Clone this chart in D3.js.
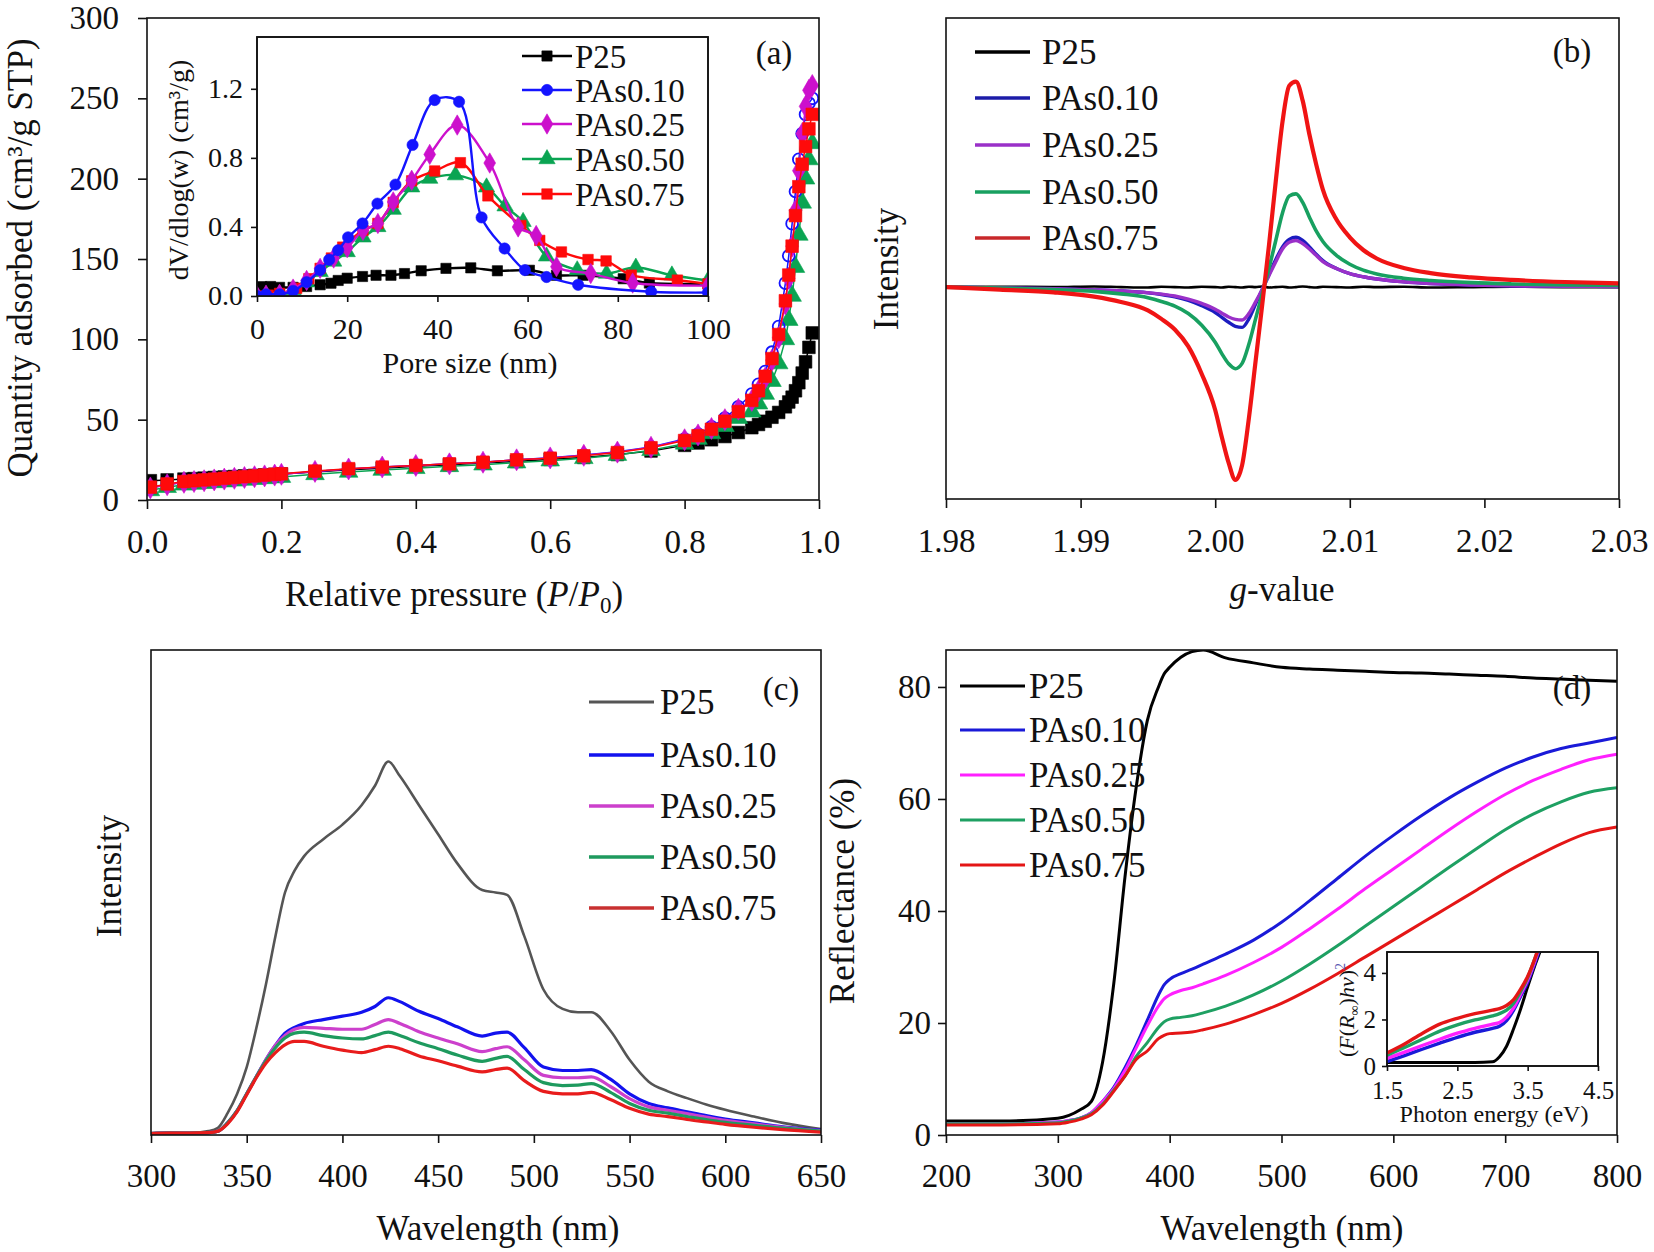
<!DOCTYPE html>
<html>
<head>
<meta charset="utf-8">
<script src="https://cdn.jsdelivr.net/npm/d3@7"></script>
<style>
  body { margin: 0; background: #fff; }
  text { font-family: "Liberation Serif", "Times New Roman", serif; fill: #111; }
</style>
</head>
<body>
<svg id="fig" width="1654" height="1252"></svg>
<script>
// ---------- shared ----------
var sampleNames = ["P25", "PAs0.10", "PAs0.25", "PAs0.50", "PAs0.75"];

// ---------- (a) N2 isotherm ----------
var isoP = [0.005,0.03,0.055,0.07,0.085,0.1,0.115,0.13,0.145,0.16,0.175,0.19,0.2,0.25,0.3,0.35,0.4,0.45,0.5,0.55,0.6,0.65,0.7,0.75,0.8,0.82,0.84,0.86,0.88,0.9,0.91,0.92,0.93,0.94,0.95,0.955,0.96,0.965,0.97,0.975,0.98,0.985,0.99];
var isoP25    = [12,12.5,13,13.3,13.6,14,14.3,14.6,15,15.3,15.6,16,16.2,17.5,18.8,19.8,21,22,23,24,25.3,26.5,28.3,30.5,34,35.5,37.5,39.5,42,45,47,49,51.5,54.5,58,61,64,68,73,79,86,95,104];
var isoPAs010 = [7.5,9.5,11,11.5,12,12.5,13,13.5,14,14.5,15,15.5,16,17.8,19.3,20.5,21.5,22.5,23.5,25,26.3,28,30,33,38,41,45.5,51,58,66,72,80,92,108,135,152,172,192,212,228,240,247,250];
var isoPAs025 = [7.5,9.5,11,11.5,12,12.5,13,13.5,14,14.5,15,15.5,16,17.8,19.3,20.5,21.5,22.5,23.5,25,26.2,27.8,29.8,32.8,37.5,40.5,44.5,50,56.5,62,68,76,87,101,122,138,158,180,205,228,245,255,258];
var isoPAs050 = [6,8,9.5,10,10.5,11,11.5,12,12.5,13,13.5,14,14.3,16,17.5,18.7,19.8,21,22,23.3,24.5,26,28,31,35,38,41.5,46,51,55,60,66,74,85,100,112,127,145,165,185,200,212,222];
var isoPAs075 = [8,10,11.5,12,12.5,13,13.5,14,14.5,15,15.5,16,16.3,18,19.5,20.5,21.5,22.5,23.5,25,26,27.5,29.5,32.5,37,40,44,49,55,62,68,77,88,103,124,140,158,177,195,209,220,231,240];
var isoTicksX = [0, 0.2, 0.4, 0.6, 0.8, 1.0];
var isoTicksY = [0, 50, 100, 150, 200, 250, 300];

// (a) inset, pore size distribution
var poreP25Size    = [0,1,3,5,8,11,14,16.4,18,20,23.4,26.4,29.7,32.7,36.4,41.9,47.4,53.3,60.4,66.4,72.3,81.2,87,100];
var poreP25Vol     = [0.045,0.054,0.055,0.05,0.05,0.055,0.065,0.074,0.09,0.103,0.113,0.12,0.12,0.13,0.146,0.16,0.163,0.146,0.149,0.12,0.12,0.1,0.075,0.07];
var porePAs010Size = [0,2,5,8,11,14,16,18,20.2,23.4,26.7,30.7,34.5,39.4,44.8,49.8,54.9,59.4,64.2,71.2,87.4,100];
var porePAs010Vol  = [0,0.01,0.01,0.03,0.08,0.15,0.21,0.265,0.34,0.42,0.535,0.645,0.875,1.135,1.125,0.455,0.275,0.15,0.11,0.065,0.025,0.02];
var porePAs025Size = [0,2,5,8,11,14,17,20,23.5,26.8,30.2,34.3,38.3,44.4,51.6,57.9,61.9,66.4,74,83.3,100];
var porePAs025Vol  = [0,0.005,0.01,0.04,0.09,0.16,0.22,0.28,0.38,0.42,0.545,0.67,0.82,0.99,0.77,0.4,0.35,0.17,0.13,0.075,0.06];
var porePAs050Size = [0,2,5,8,11,14,17,20,23.5,26.8,30.2,34.3,38.3,44,50.9,55,59,64.2,71,77.5,84,92,100];
var porePAs050Vol  = [0,0.005,0.01,0.035,0.08,0.14,0.2,0.255,0.34,0.4,0.5,0.63,0.68,0.7,0.63,0.52,0.43,0.23,0.15,0.13,0.165,0.12,0.09];
var porePAs075Size = [0,2.5,5,8.8,11.5,14,16.5,19,23.5,26.8,30.2,34.3,39.4,45.1,51.2,58.5,62.7,67.5,73.4,77.4,83,93.2,100];
var porePAs075Vol  = [0,0.005,0.015,0.045,0.1,0.16,0.22,0.283,0.38,0.42,0.542,0.667,0.724,0.772,0.58,0.408,0.322,0.255,0.211,0.203,0.121,0.092,0.07];
var poreTicksX = [0, 20, 40, 60, 80, 100];
var poreTicksY = [0, 0.4, 0.8, 1.2];

// ---------- (b) EPR ----------
var gValues  = [1.980,1.984,1.988,1.991,1.993,1.995,1.996,1.997,1.998,1.999,2.000,2.0005,2.001,2.0015,2.002,2.0025,2.003,2.0035,2.004,2.0045,2.005,2.0055,2.006,2.0065,2.007,2.0075,2.008,2.009,2.010,2.011,2.012,2.014,2.016,2.019,2.022,2.026,2.030];
var eprP25    = [0,0.002,0,0.003,0,-0.002,0.002,0,-0.002,0.002,0,-0.002,0.002,0,-0.002,0.002,0,0.003,-0.002,0,0.002,-0.002,0,0.003,0,-0.002,0.002,0,-0.002,0.002,0,0.002,-0.002,0,0.002,0,0];
var eprPAs010 = [0,-0.004,-0.008,-0.013,-0.018,-0.027,-0.035,-0.046,-0.063,-0.088,-0.12,-0.143,-0.166,-0.185,-0.19,-0.15,-0.08,-0.01,0.06,0.13,0.19,0.225,0.235,0.22,0.19,0.155,0.125,0.088,0.064,0.049,0.038,0.025,0.017,0.01,0.006,0.004,0.003];
var eprPAs025 = [0,-0.004,-0.008,-0.013,-0.018,-0.026,-0.033,-0.042,-0.057,-0.077,-0.104,-0.123,-0.141,-0.152,-0.155,-0.125,-0.07,-0.01,0.055,0.12,0.18,0.212,0.22,0.205,0.18,0.15,0.12,0.088,0.064,0.049,0.038,0.025,0.017,0.01,0.006,0.004,0.003];
var eprPAs050 = [0,-0.005,-0.012,-0.02,-0.032,-0.05,-0.068,-0.09,-0.125,-0.18,-0.26,-0.315,-0.362,-0.385,-0.36,-0.27,-0.15,-0.03,0.09,0.22,0.35,0.43,0.44,0.4,0.33,0.265,0.215,0.15,0.108,0.08,0.062,0.042,0.031,0.021,0.015,0.01,0.008];
var eprPAs075 = [0,-0.012,-0.025,-0.045,-0.07,-0.11,-0.15,-0.2,-0.28,-0.41,-0.58,-0.71,-0.83,-0.91,-0.84,-0.62,-0.35,-0.08,0.2,0.5,0.78,0.95,0.97,0.88,0.72,0.58,0.46,0.32,0.235,0.175,0.135,0.09,0.066,0.046,0.034,0.024,0.018];
var gTicks = [1.98, 1.99, 2.00, 2.01, 2.02, 2.03];

// ---------- (c) PL ----------
var plWave    = [300,310,320,330,335,340,345,350,355,360,365,370,375,380,390,400,410,417,424,430,440,450,460,473,480,486,495,505,515,523,530,540,550,560,570,580,590,600,615,630,650];
var plP25     = [0.4,0.5,0.4,0.8,1.5,4.5,8.5,14,22,31,41,50,54.5,57.5,61,64,68,72,77,74,68,62,56,50.5,50,49.5,41,30,26,25.3,25.3,21.5,15.5,11,9,7.6,6.3,5.2,3.8,2.5,1.2];
var plPAs010  = [0.3,0.4,0.4,0.5,0.8,2.5,5,8.5,12,15.5,18.5,21,22.2,23,23.8,24.5,25.3,26.5,28.3,27.5,25.5,24,22.3,20.4,21,21.2,18,14,13.3,13.3,13.5,11.5,8.5,6.5,5.6,4.8,4,3.3,2.5,1.7,1];
var plPAs025  = [0.3,0.4,0.4,0.5,0.8,2.5,5,8.5,12,15.5,18.5,20.5,21.8,22.2,22,21.8,21.8,22.8,23.8,23,21.3,20,18.8,17.2,17.8,18.2,15.5,12.3,11.8,11.8,12,10,7.5,5.8,5.1,4.4,3.7,3,2.3,1.6,0.9];
var plPAs050  = [0.3,0.4,0.4,0.5,0.8,2.5,5,8.5,12,15.3,18,20,21,21.2,20.5,20,19.8,20.5,21.2,20.5,19,17.8,16.5,15.2,15.8,16.2,13.5,10.8,10.2,10.3,10.6,8.8,6.5,5.1,4.5,3.8,3.2,2.6,2,1.4,0.8];
var plPAs075  = [0.3,0.4,0.4,0.5,0.8,2.3,4.8,8.3,11.8,14.8,17,18.6,19.3,19.3,18.3,17.5,17,17.6,18.3,17.8,16.3,15.3,14.2,13,13.5,13.8,11.2,9,8.5,8.5,8.8,7.3,5.5,4.3,3.8,3.2,2.7,2.2,1.6,1.1,0.6];
var plTicks = [300, 350, 400, 450, 500, 550, 600, 650];

// ---------- (d) diffuse reflectance ----------
var drsWave   = [200,250,300,310,320,330,340,350,360,370,380,390,395,400,410,420,430,450,475,500,525,550,575,600,625,650,675,700,725,750,775,800];
var drsP25    = [2.5,2.5,3,3.5,4.5,6,13,27,46,62,74,80,82.3,83.5,85.3,86.3,86.6,85.2,84.3,83.5,83.2,83,82.8,82.6,82.5,82.3,82.1,81.9,81.6,81.4,81.2,81];
var drsPAs010 = [2,2,2.3,2.6,3,4,6,8.5,12,16,20.5,25,26.8,27.8,28.8,29.6,30.5,32.3,34.8,38,41.8,45.8,49.8,53.5,57,60.2,63,65.5,67.5,69,70,71];
var drsPAs025 = [2,2,2.3,2.6,3,4,6,8.3,11.5,15.5,19.5,23,24.3,25,25.8,26.3,27,28.5,30.8,33.5,36.8,40.3,44,47.5,51,54.5,57.8,60.8,63.3,65.3,67,68];
var drsPAs050 = [2,2,2.2,2.5,3,3.8,5.5,8,10.5,14,16.5,19.2,20.2,20.7,21,21.3,21.8,23,25,27.5,30.5,33.8,37.3,40.8,44.3,47.8,51.2,54.5,57.3,59.5,61.2,62];
var drsPAs075 = [1.8,1.8,2,2.3,2.8,3.6,5.3,7.8,10.5,13.5,15,17.2,17.8,18.1,18.2,18.4,18.8,19.8,21.5,23.5,26,28.8,31.8,34.8,37.8,40.8,43.8,46.8,49.5,52,54,55];
var drsTicksX = [200, 300, 400, 500, 600, 700, 800];
var drsTicksY = [0, 20, 40, 60, 80];

// (d) inset, Tauc plot
var taucEnergy = [1.5,1.75,2.0,2.25,2.5,2.75,3.0,3.1,3.2,3.3,3.4,3.5,3.6,3.7];
var taucP25    = [0.15,0.15,0.15,0.15,0.15,0.15,0.18,0.4,0.85,1.6,2.45,3.4,4.3,5.1];
var taucPAs010 = [0.19,0.45,0.72,0.98,1.23,1.45,1.62,1.71,1.95,2.4,3.0,3.6,4.4,5.3];
var taucPAs025 = [0.33,0.6,0.88,1.15,1.41,1.62,1.8,1.87,2.1,2.5,3.1,3.7,4.5,5.4];
var taucPAs050 = [0.47,0.8,1.15,1.5,1.77,1.98,2.15,2.25,2.4,2.7,3.2,3.8,4.6,5.4];
var taucPAs075 = [0.56,0.95,1.4,1.8,2.05,2.25,2.4,2.47,2.6,2.85,3.3,3.85,4.6,5.5];
var taucTicksX = [1.5, 2.5, 3.5, 4.5];
var taucTicksY = [0, 2, 4];

// ---------- drawing ----------
var svg = d3.select("#fig");
svg.append("rect").attr("width", 1654).attr("height", 1252).attr("fill", "#fff");
var defs = svg.append("defs");
var INK = "#111";

function addClip(id, x0, y0, x1, y1) {
    defs.append("clipPath").attr("id", id).append("rect")
        .attr("x", x0).attr("y", y0).attr("width", x1 - x0).attr("height", y1 - y0);
}

function frame(x0, y0, x1, y1, fill) {
    svg.append("rect").attr("x", x0).attr("y", y0)
        .attr("width", x1 - x0).attr("height", y1 - y0)
        .attr("fill", fill || "none").attr("stroke", INK).attr("stroke-width", 1.6);
}

function styleAxis(g, size) {
    g.attr("font-family", "'Liberation Serif', serif").attr("font-size", size);
    g.select(".domain").remove();
    g.selectAll(".tick line").attr("stroke", INK).attr("stroke-width", 1.6);
    g.selectAll(".tick text").attr("fill", INK);
}

function bottomAxis(scale, y, ticks, fmt, size, tick, pad) {
    var g = svg.append("g").attr("transform", "translate(0," + y + ")")
        .call(d3.axisBottom(scale).tickValues(ticks).tickFormat(fmt)
            .tickSize(tick).tickPadding(pad).tickSizeOuter(0));
    styleAxis(g, size);
    return g;
}

function leftAxis(scale, x, ticks, fmt, size, tick, pad) {
    var g = svg.append("g").attr("transform", "translate(" + x + ",0)")
        .call(d3.axisLeft(scale).tickValues(ticks).tickFormat(fmt)
            .tickSize(tick).tickPadding(pad).tickSizeOuter(0));
    styleAxis(g, size);
    return g;
}

function vTitle(x, y, size) {
    return svg.append("text").attr("transform", "translate(" + x + "," + y + ") rotate(-90)")
        .attr("text-anchor", "middle").attr("font-size", size);
}

function hTitle(x, y, size) {
    return svg.append("text").attr("x", x).attr("y", y)
        .attr("text-anchor", "middle").attr("font-size", size);
}

function lineLegend(x0, x1, gap, ys, colors, widths, size) {
    sampleNames.forEach(function(name, i) {
        svg.append("line").attr("x1", x0).attr("x2", x1).attr("y1", ys[i]).attr("y2", ys[i])
            .attr("stroke", colors[i]).attr("stroke-width", widths[i]);
        svg.append("text").attr("x", x1 + gap).attr("y", ys[i]).attr("dy", "0.35em")
            .attr("font-size", size).text(name);
    });
}

function drawLines(g, xs, ys, xVals, series, colors, widths, order, curve) {
    order.forEach(function(i) {
        var pts = xVals.map(function(v, k) { return [v, series[i][k]]; });
        g.append("path").datum(pts)
            .attr("d", d3.line().curve(curve).x(function(d) { return xs(d[0]); }).y(function(d) { return ys(d[1]); }))
            .attr("fill", "none").attr("stroke", colors[i]).attr("stroke-width", widths[i])
            .attr("stroke-linejoin", "round");
    });
}

var symTypes = [d3.symbolSquare, d3.symbolCircle, d3.symbolDiamond, d3.symbolTriangle, d3.symbolSquare];

function drawMarkers(g, xs, ys, pts, i, color, sizes, hollow) {
    g.selectAll(null).data(pts).enter().append("path")
        .attr("transform", function(d) { return "translate(" + xs(d[0]) + "," + ys(d[1]) + ")"; })
        .attr("d", d3.symbol().type(symTypes[i]).size(sizes[i]))
        .attr("fill", hollow ? "none" : color)
        .attr("stroke", color).attr("stroke-width", hollow ? 1.8 : 0.6);
}

// ===== panel (a) =====
var colorsA = ["#000000", "#1414ff", "#cc10cc", "#0aa452", "#ff0a0a"];
var ax = d3.scaleLinear().domain([0, 1]).range([147, 819]);
var ay = d3.scaleLinear().domain([0, 300]).range([500, 18]);
addClip("clipA", 147, 18, 819, 500);
var gA = svg.append("g").attr("clip-path", "url(#clipA)");
var isoSeries = [isoP25, isoPAs010, isoPAs025, isoPAs050, isoPAs075];
var isoSizes = [160, 110, 140, 150, 160];
[0, 3, 1, 2, 4].forEach(function(i) {
    var pts = isoP.map(function(p, k) { return [p, isoSeries[i][k]]; });
    gA.append("path").datum(pts)
        .attr("d", d3.line().x(function(d) { return ax(d[0]); }).y(function(d) { return ay(d[1]); }))
        .attr("fill", "none").attr("stroke", colorsA[i]).attr("stroke-width", 1.5);
    drawMarkers(gA, ax, ay, pts, i, colorsA[i], isoSizes, i === 1);
});
frame(147, 18, 819, 500);
bottomAxis(ax, 500, isoTicksX, d3.format(".1f"), 33, 9, 21);
leftAxis(ay, 147, isoTicksY, d3.format("d"), 33, 9, 19);
vTitle(32, 258, 35).text("Quantity adsorbed (cm³/g STP)");
var tA = hTitle(454, 606, 35);
tA.append("tspan").text("Relative pressure (");
tA.append("tspan").attr("font-style", "italic").text("P");
tA.append("tspan").text("/");
tA.append("tspan").attr("font-style", "italic").text("P");
tA.append("tspan").attr("font-size", 23).attr("dy", 7).text("0");
tA.append("tspan").attr("dy", -7).text(")");
svg.append("text").attr("x", 774).attr("y", 64).attr("text-anchor", "middle").attr("font-size", 33).text("(a)");

// inset (a)
var px = d3.scaleLinear().domain([0, 100]).range([257, 708]);
var py = d3.scaleLinear().domain([0, 1.5]).range([296, 37]);
frame(257, 37, 708, 296, "#fff");
addClip("clipAi", 257, 37, 708, 296);
var gAi = svg.append("g").attr("clip-path", "url(#clipAi)");
var poreSize = [poreP25Size, porePAs010Size, porePAs025Size, porePAs050Size, porePAs075Size];
var poreVol = [poreP25Vol, porePAs010Vol, porePAs025Vol, porePAs050Vol, porePAs075Vol];
var poreSizes = [105, 100, 120, 115, 110];
[0, 3, 4, 2, 1].forEach(function(i) {
    var pts = poreSize[i].map(function(s, k) { return [s, poreVol[i][k]]; });
    gAi.append("path").datum(pts)
        .attr("d", d3.line().curve(d3.curveCatmullRom.alpha(0.5))
            .x(function(d) { return px(d[0]); }).y(function(d) { return py(d[1]); }))
        .attr("fill", "none").attr("stroke", colorsA[i]).attr("stroke-width", 2.4);
    drawMarkers(gAi, px, py, pts, i, colorsA[i], poreSizes, false);
});
frame(257, 37, 708, 296);
bottomAxis(px, 296, poreTicksX, d3.format("d"), 30, 6, 16);
leftAxis(py, 257, poreTicksY, d3.format(".1f"), 28, 6, 8);
vTitle(188, 170, 28).text("dV/dlog(w) (cm³/g)");
hTitle(470, 373, 30).text("Pore size (nm)");
var legA = [56, 90, 124, 159, 194];
sampleNames.forEach(function(name, i) {
    svg.append("line").attr("x1", 522).attr("x2", 572).attr("y1", legA[i]).attr("y2", legA[i])
        .attr("stroke", colorsA[i]).attr("stroke-width", 2.6);
    svg.append("path").attr("transform", "translate(547," + legA[i] + ")")
        .attr("d", d3.symbol().type(symTypes[i]).size(poreSizes[i]))
        .attr("fill", colorsA[i]).attr("stroke", colorsA[i]).attr("stroke-width", 0.6);
    svg.append("text").attr("x", 575).attr("y", legA[i]).attr("dy", "0.35em")
        .attr("font-size", 33).text(name);
});

// ===== panel (b) =====
var colorsB = ["#000000", "#1c1cc0", "#9a30c8", "#18a060", "#f01414"];
var bx = d3.scaleLinear().domain([1.98, 2.03]).range([946, 1619]);
var by = d3.scaleLinear().domain([-1, 1.27]).range([499, 18]);
addClip("clipB", 946, 18, 1619, 499);
var gB = svg.append("g").attr("clip-path", "url(#clipB)");
drawLines(gB, bx, by, gValues, [eprP25, eprPAs010, eprPAs025, eprPAs050, eprPAs075],
    colorsB, [2.6, 3.4, 3.4, 3.6, 4.2], [0, 1, 2, 3, 4], d3.curveMonotoneX);
frame(946, 18, 1619, 499);
bottomAxis(bx, 499, gTicks, d3.format(".2f"), 33, 9, 21);
vTitle(898, 269, 35).text("Intensity");
var tB = hTitle(1282, 601, 35);
tB.append("tspan").attr("font-style", "italic").text("g");
tB.append("tspan").text("-value");
svg.append("text").attr("x", 1572).attr("y", 62).attr("text-anchor", "middle").attr("font-size", 33).text("(b)");
lineLegend(975, 1030, 12, [52, 98, 145, 192, 238], ["#000000", "#1c1ca8", "#9a30c8", "#18a060", "#c8282a"],
    [3.5, 3.5, 3.5, 3.5, 3.5], 35);

// ===== panel (c) =====
var colorsC = ["#555555", "#1212ee", "#cc40cc", "#1e9a5e", "#e81c1c"];
var cx = d3.scaleLinear().domain([300, 650]).range([151, 821]);
var cy = d3.scaleLinear().domain([0, 100]).range([1135, 650]);
addClip("clipC", 151, 650, 821, 1135);
var gC = svg.append("g").attr("clip-path", "url(#clipC)");
drawLines(gC, cx, cy, plWave, [plP25, plPAs010, plPAs025, plPAs050, plPAs075],
    colorsC, [2.6, 3.2, 3.2, 3.2, 3.2], [0, 1, 2, 3, 4], d3.curveMonotoneX);
frame(151, 650, 821, 1135);
bottomAxis(cx, 1135, plTicks, d3.format("d"), 33, 8, 21);
vTitle(121, 876, 35).text("Intensity");
hTitle(498, 1240, 35).text("Wavelength (nm)");
svg.append("text").attr("x", 781).attr("y", 700).attr("text-anchor", "middle").attr("font-size", 33).text("(c)");
lineLegend(589, 654, 6, [702, 755, 806, 857, 908], ["#555555", "#1212ee", "#cc40cc", "#1e9a5e", "#c83030"],
    [3.2, 3.6, 3.6, 3.6, 3.6], 35);

// ===== panel (d) =====
var colorsD = ["#000000", "#1a1ad8", "#ff20ff", "#1ea062", "#e41616"];
var dx = d3.scaleLinear().domain([200, 800]).range([946, 1617]);
var dy = d3.scaleLinear().domain([0, 86.6]).range([1135, 650]);
addClip("clipD", 946, 650, 1617, 1135);
var gD = svg.append("g").attr("clip-path", "url(#clipD)");
svg.append("text").attr("x", 1572).attr("y", 699).attr("text-anchor", "middle").attr("font-size", 33).text("(d)");
drawLines(gD, dx, dy, drsWave, [drsP25, drsPAs010, drsPAs025, drsPAs050, drsPAs075],
    colorsD, [3, 3, 3, 3, 3], [0, 1, 2, 3, 4], d3.curveMonotoneX);
frame(946, 650, 1617, 1135);
bottomAxis(dx, 1135, drsTicksX, d3.format("d"), 33, 8, 21);
leftAxis(dy, 946, drsTicksY, d3.format("d"), 33, 8, 7);
vTitle(854, 891, 35).text("Reflectance (%)");
hTitle(1282, 1240, 35).text("Wavelength (nm)");
lineLegend(960, 1025, 4, [686, 730, 775, 820, 865], colorsD, [3.2, 3.2, 3.2, 3.2, 3.2], 35);

// inset (d)
var ex = d3.scaleLinear().domain([1.5, 4.5]).range([1387, 1598]);
var ey = d3.scaleLinear().domain([0, 4.9]).range([1066, 952]);
frame(1387, 952, 1598, 1066, "#fff");
addClip("clipDi", 1387, 952, 1598, 1066);
var gDi = svg.append("g").attr("clip-path", "url(#clipDi)");
drawLines(gDi, ex, ey, taucEnergy, [taucP25, taucPAs010, taucPAs025, taucPAs050, taucPAs075],
    colorsD, [3, 3.4, 3.4, 3.4, 3.4], [0, 1, 2, 3, 4], d3.curveMonotoneX);
frame(1387, 952, 1598, 1066);
bottomAxis(ex, 1066, taucTicksX, d3.format(".1f"), 25, 5, 10);
leftAxis(ey, 1387, taucTicksY, d3.format("d"), 25, 5, 6);
var tD = vTitle(1354, 1010, 22);
tD.append("tspan").text("(");
tD.append("tspan").attr("font-style", "italic").text("F");
tD.append("tspan").text("(");
tD.append("tspan").attr("font-style", "italic").text("R");
tD.append("tspan").attr("font-size", 14).attr("dy", 5).text("∞");
tD.append("tspan").attr("dy", -5).text(")");
tD.append("tspan").attr("font-style", "italic").text("hν");
tD.append("tspan").text(")");
tD.append("tspan").attr("font-size", 14).attr("dy", -9).attr("fill", "#5a5ab0").text("2");
hTitle(1494, 1122, 24).text("Photon energy (eV)");
</script>
</body>
</html>
